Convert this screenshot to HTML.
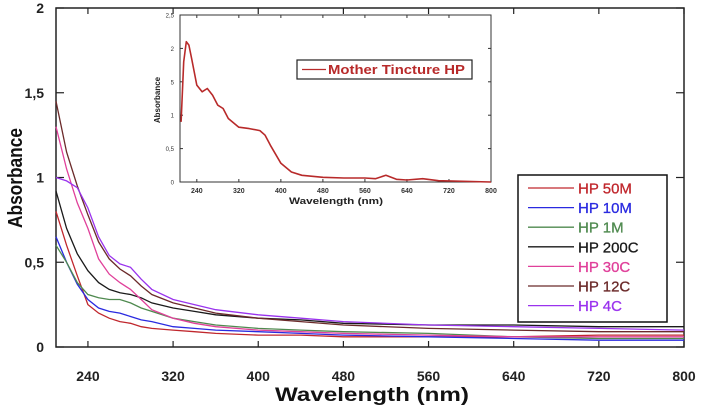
<!DOCTYPE html>
<html><head><meta charset="utf-8"><style>
body{margin:0;background:#fff;width:705px;height:410px;overflow:hidden}
svg{display:block;font-family:"Liberation Sans",Arial,sans-serif}
</style></head><body>
<svg id="chart" width="705" height="410"></svg>
<script>
const wl=[210,220,230,240,250,260,270,280,290,300,320,340,360,400,440,480,560,640,720,800];
const seriesNames=["HP 50M","HP 10M","HP 1M","HP 200C","HP 30C","HP 12C","HP 4C"];
const seriesColors=["#c0272d","#2a2ae0","#4f8a4f","#1a1a1a","#e0409a","#6b2a2a","#9a33ee"];
const s50M=[0.8,0.6,0.42,0.25,0.2,0.17,0.15,0.14,0.12,0.11,0.1,0.09,0.08,0.07,0.07,0.06,0.06,0.06,0.07,0.07];
const s10M=[0.65,0.5,0.37,0.28,0.23,0.21,0.2,0.18,0.16,0.15,0.12,0.11,0.1,0.09,0.08,0.07,0.06,0.05,0.04,0.04];
const s1M=[0.6,0.5,0.38,0.31,0.29,0.28,0.28,0.26,0.23,0.21,0.17,0.15,0.13,0.11,0.1,0.09,0.08,0.06,0.05,0.05];
const s200C=[0.92,0.7,0.55,0.45,0.38,0.34,0.32,0.31,0.29,0.26,0.23,0.21,0.19,0.17,0.16,0.14,0.13,0.13,0.12,0.12];
const s30C=[1.3,1.05,0.85,0.7,0.52,0.43,0.38,0.34,0.28,0.22,0.17,0.14,0.12,0.1,0.09,0.08,0.07,0.06,0.06,0.06];
const s12C=[1.45,1.15,0.95,0.78,0.62,0.52,0.46,0.42,0.36,0.31,0.26,0.23,0.2,0.17,0.15,0.13,0.11,0.1,0.09,0.09];
const s4C=[1.0,0.98,0.94,0.82,0.65,0.54,0.49,0.47,0.4,0.34,0.28,0.25,0.22,0.19,0.17,0.15,0.13,0.12,0.11,0.1];
const xTicks=[240,320,400,480,560,640,720,800];
const yTicks=[0,0.5,1,1.5,2];
const yTickLabels=["0","0,5","1","1,5","2"];
const insetWl=[210,215,220,225,230,240,250,260,270,280,290,300,320,340,360,370,380,400,420,440,480,520,560,580,600,620,640,670,700,800];
const insetVals=[0.9,1.8,2.1,2.05,1.85,1.45,1.35,1.4,1.3,1.15,1.1,0.95,0.82,0.8,0.77,0.7,0.55,0.28,0.15,0.1,0.07,0.06,0.06,0.05,0.1,0.04,0.03,0.05,0.02,0.0];
const insetYTicks=[0,0.5,1,1.5,2,2.5];
const insetYLabels=["0","0,5","1","5","2","2,5"];

const NS="http://www.w3.org/2000/svg";
const svg=document.getElementById("chart");
function mk(tag,attrs,parent){const e=document.createElementNS(NS,tag);for(const k in attrs)e.setAttribute(k,attrs[k]);(parent||svg).appendChild(e);return e;}
const X0=56,X1=684,Y0=347,Y1=8;
const sx=v=>X0+(v-210)/(800-210)*(X1-X0);
const sy=v=>Y0-v/2*(Y0-Y1);
const frame=mk("rect",{x:X0,y:Y1,width:X1-X0,height:Y0-Y1,fill:"none",stroke:"#222","stroke-width":1.5});


xTicks.forEach(t=>{
  const l=mk("line",{x1:sx(t),x2:sx(t),y1:Y0,y2:Y0-6,stroke:"#222","stroke-width":1.2});
  
  
  mk("line",{x1:sx(t),x2:sx(t),y1:Y1,y2:Y1+6,stroke:"#222","stroke-width":1.2});
  const tx=mk("text",{x:sx(t),y:381,"text-anchor":"middle","font-size":14,"font-weight":"bold",fill:"#222"});
  tx.textContent=t;
  
  
});
yTicks.forEach((t,i)=>{
  mk("line",{x1:X0,x2:X0+8,y1:sy(t),y2:sy(t),stroke:"#222","stroke-width":1.2});
  mk("line",{x1:X1,x2:X1-8,y1:sy(t),y2:sy(t),stroke:"#222","stroke-width":1.2});
  const tx=mk("text",{x:44,y:sy(t)+5,"text-anchor":"end","font-size":14,"font-weight":"bold",fill:"#222"});
  tx.textContent=yTickLabels[i];
  
  
});
const xt=mk("text",{x:372,y:401,"text-anchor":"middle","font-size":19,"font-weight":"bold",fill:"#111",textLength:"194",lengthAdjust:"spacingAndGlyphs"});
xt.textContent="Wavelength (nm)";


const yt=mk("text",{x:0,y:0,transform:"translate(22,178) rotate(-90)","text-anchor":"middle","font-size":20,"font-weight":"bold",fill:"#111",textLength:"100",lengthAdjust:"spacingAndGlyphs"});
yt.textContent="Absorbance";


const allSeries=[s50M,s10M,s1M,s200C,s30C,s12C,s4C];
allSeries.forEach((s,i)=>{
  const d=s.map((v,j)=>(j?"L":"M")+sx(wl[j]).toFixed(1)+","+sy(v).toFixed(1)).join(" ");
  const p=mk("path",{d:d,fill:"none",stroke:seriesColors[i],"stroke-width":1.3});
  
  
});
const lg=mk("rect",{x:518,y:175,width:149,height:147,fill:"#fff",stroke:"#111","stroke-width":1.5});


seriesNames.forEach((n,i)=>{
  const y=188+i*19.6;
  mk("line",{x1:528,x2:574,y1:y,y2:y,stroke:seriesColors[i],"stroke-width":1.3});
  const tx=mk("text",{x:578,y:y+5.5,"font-size":15,fill:seriesColors[i],"stroke":seriesColors[i],"stroke-width":0.3});
  tx.textContent=n;
  
  
});
const IX0=180,IX1=491,IY0=182,IY1=15;
const ix=v=>IX0+(v-208)/(800-208)*(IX1-IX0);
const iy=v=>IY0-v/2.5*(IY0-IY1);
const ib=mk("rect",{x:IX0,y:IY1,width:IX1-IX0,height:IY0-IY1,fill:"#fff",stroke:"#333","stroke-width":1});


xTicks.forEach(t=>{
  mk("line",{x1:ix(t),x2:ix(t),y1:IY0,y2:IY0-3,stroke:"#333"});
  mk("line",{x1:ix(t),x2:ix(t),y1:IY1,y2:IY1+3,stroke:"#333"});
  const tx=mk("text",{x:ix(t),y:193,"text-anchor":"middle","font-size":7,"font-weight":"bold",fill:"#333"});
  tx.textContent=t;
  
  
});
insetYTicks.forEach((t,i)=>{
  mk("line",{x1:IX0,x2:IX0+3,y1:iy(t),y2:iy(t),stroke:"#333"});
  mk("line",{x1:IX1,x2:IX1-3,y1:iy(t),y2:iy(t),stroke:"#333"});
  const tx=mk("text",{x:174,y:iy(t)+2.5,"text-anchor":"end","font-size":6,fill:"#333"});
  tx.textContent=insetYLabels[i];
  
  
});
const ixt=mk("text",{x:336,y:204,"text-anchor":"middle","font-size":9,"font-weight":"bold",fill:"#222",textLength:"94",lengthAdjust:"spacingAndGlyphs"});
ixt.textContent="Wavelength (nm)";


const iyt=mk("text",{x:0,y:0,transform:"translate(160,100) rotate(-90)","text-anchor":"middle","font-size":8,"font-weight":"bold",fill:"#222"});
iyt.textContent="Absorbance";


const id=insetVals.map((v,j)=>(j?"L":"M")+ix(insetWl[j]).toFixed(1)+","+iy(v).toFixed(1)).join(" ");
const ip=mk("path",{d:id,fill:"none",stroke:"#b82a2a","stroke-width":1.6,"stroke-linejoin":"round"});


const il=mk("rect",{x:297,y:60,width:175,height:19,fill:"#fff",stroke:"#222","stroke-width":1.2});


mk("line",{x1:302,x2:326,y1:69.5,y2:69.5,stroke:"#b82a2a","stroke-width":1.3});
const ilt=mk("text",{x:328,y:74,"font-size":13,"font-weight":"bold",fill:"#b82a2a",textLength:"137",lengthAdjust:"spacingAndGlyphs"});
ilt.textContent="Mother Tincture HP";


</script>
</body></html>
